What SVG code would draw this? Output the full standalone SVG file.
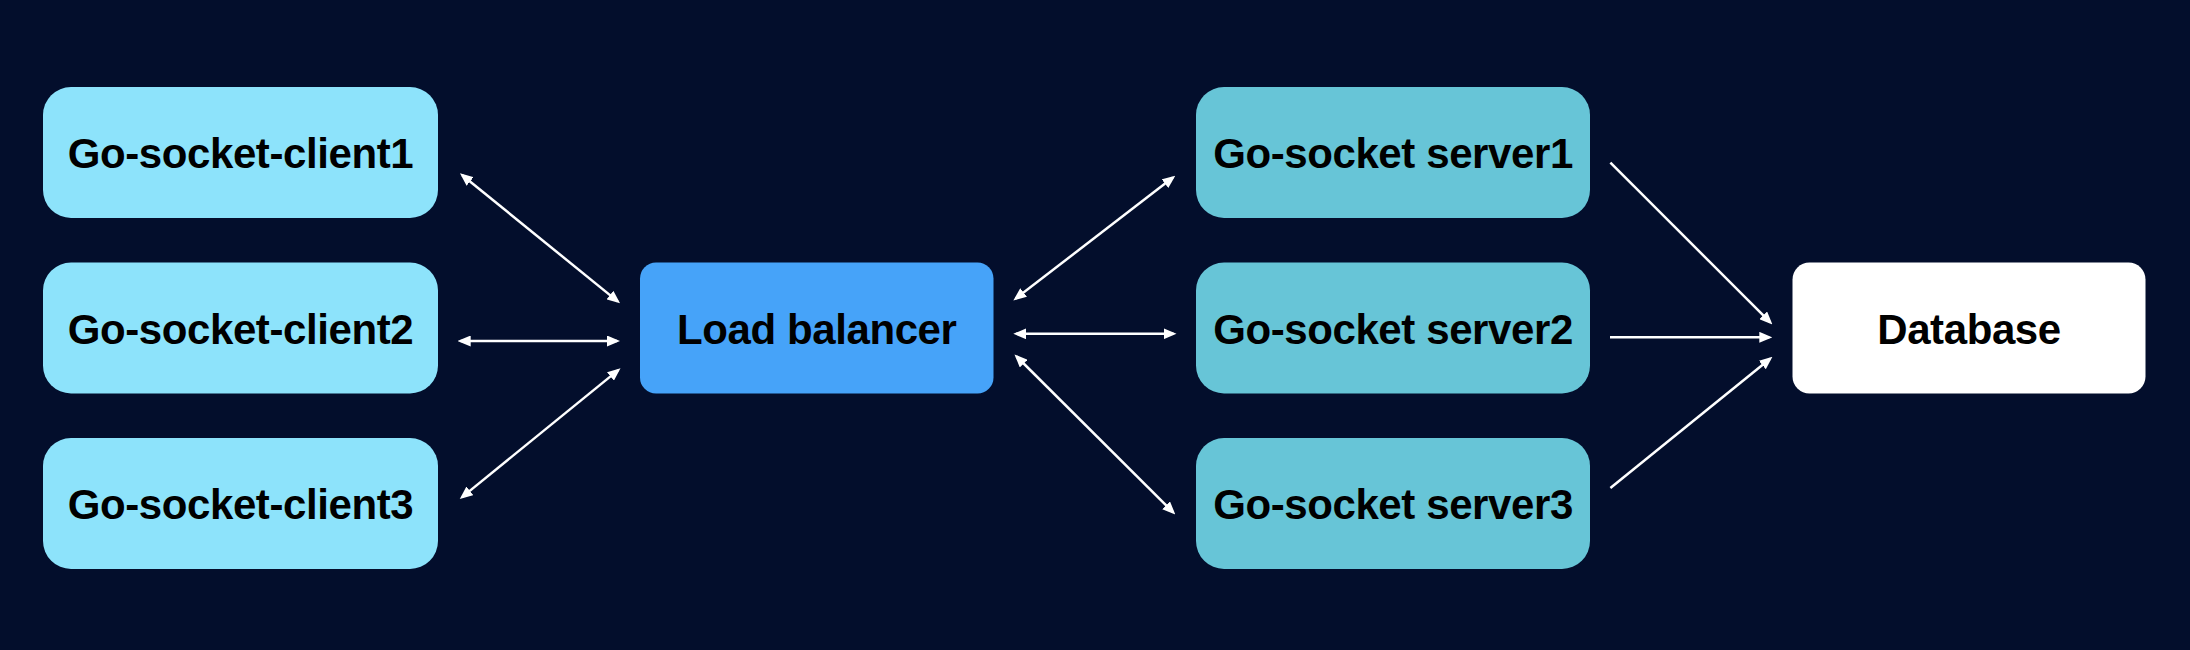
<svg xmlns="http://www.w3.org/2000/svg" width="2190" height="650" viewBox="0 0 2190 650">
<defs>
<style>
.lbl{font-family:"Liberation Sans",Arial,Helvetica,sans-serif;font-weight:bold;font-size:42px;letter-spacing:-0.4px;fill:#000;text-anchor:middle}
.client{fill:#8DE3FB}
.server{fill:#67C5D7}
.lb{fill:#46A3F9}
.db{fill:#FFFFFF}
.conn{stroke:#FFFFFF;stroke-width:2.5;fill:none}
</style>
<marker id="ah" viewBox="0 0 13 11" refX="10" refY="5.5" markerWidth="13" markerHeight="11" markerUnits="userSpaceOnUse" orient="auto-start-reverse">
<path d="M0,0 L13,5.5 L0,11 z" fill="#FFFFFF"/>
</marker>
</defs>
<rect x="0" y="0" width="2190" height="650" fill="#030E2C"/>
<g id="client1"><rect class="client" x="43" y="87" width="395" height="131" rx="28"/><text class="lbl" x="240.5" y="168">Go-socket-client1</text></g>
<g id="client2"><rect class="client" x="43" y="262.5" width="395" height="131" rx="28"/><text class="lbl" x="240.5" y="343.5">Go-socket-client2</text></g>
<g id="client3"><rect class="client" x="43" y="438" width="395" height="131" rx="28"/><text class="lbl" x="240.5" y="519">Go-socket-client3</text></g>
<g id="loadbalancer"><rect class="lb" x="640" y="262.5" width="353.5" height="131" rx="16"/><text class="lbl" x="816.75" y="343.5">Load balancer</text></g>
<g id="server1"><rect class="server" x="1196" y="87" width="394" height="131" rx="28"/><text class="lbl" x="1393" y="168">Go-socket server1</text></g>
<g id="server2"><rect class="server" x="1196" y="262.5" width="394" height="131" rx="28"/><text class="lbl" x="1393" y="343.5">Go-socket server2</text></g>
<g id="server3"><rect class="server" x="1196" y="438" width="394" height="131" rx="28"/><text class="lbl" x="1393" y="519">Go-socket server3</text></g>
<g id="database"><rect class="db" x="1792.5" y="262.5" width="353" height="131" rx="17"/><text class="lbl" x="1969" y="343.5">Database</text></g>
<g id="connectors">
<line class="conn" x1="462.3" y1="175.2" x2="617.7" y2="301.4" marker-start="url(#ah)" marker-end="url(#ah)"/>
<line class="conn" x1="460.7" y1="341" x2="617" y2="341" marker-start="url(#ah)" marker-end="url(#ah)"/>
<line class="conn" x1="462.1" y1="497.1" x2="618.2" y2="370.1" marker-start="url(#ah)" marker-end="url(#ah)"/>
<line class="conn" x1="1015.7" y1="298.6" x2="1172.9" y2="177.5" marker-start="url(#ah)" marker-end="url(#ah)"/>
<line class="conn" x1="1016.3" y1="333.8" x2="1173.5" y2="333.8" marker-start="url(#ah)" marker-end="url(#ah)"/>
<line class="conn" x1="1016.6" y1="356.5" x2="1173.2" y2="512.4" marker-start="url(#ah)" marker-end="url(#ah)"/>
<line class="conn" x1="1610.4" y1="162.6" x2="1770.3" y2="322.4" marker-end="url(#ah)"/>
<line class="conn" x1="1610" y1="337.3" x2="1769.3" y2="337.3" marker-end="url(#ah)"/>
<line class="conn" x1="1610.4" y1="488" x2="1770.1" y2="358.7" marker-end="url(#ah)"/>
</g>
</svg>
